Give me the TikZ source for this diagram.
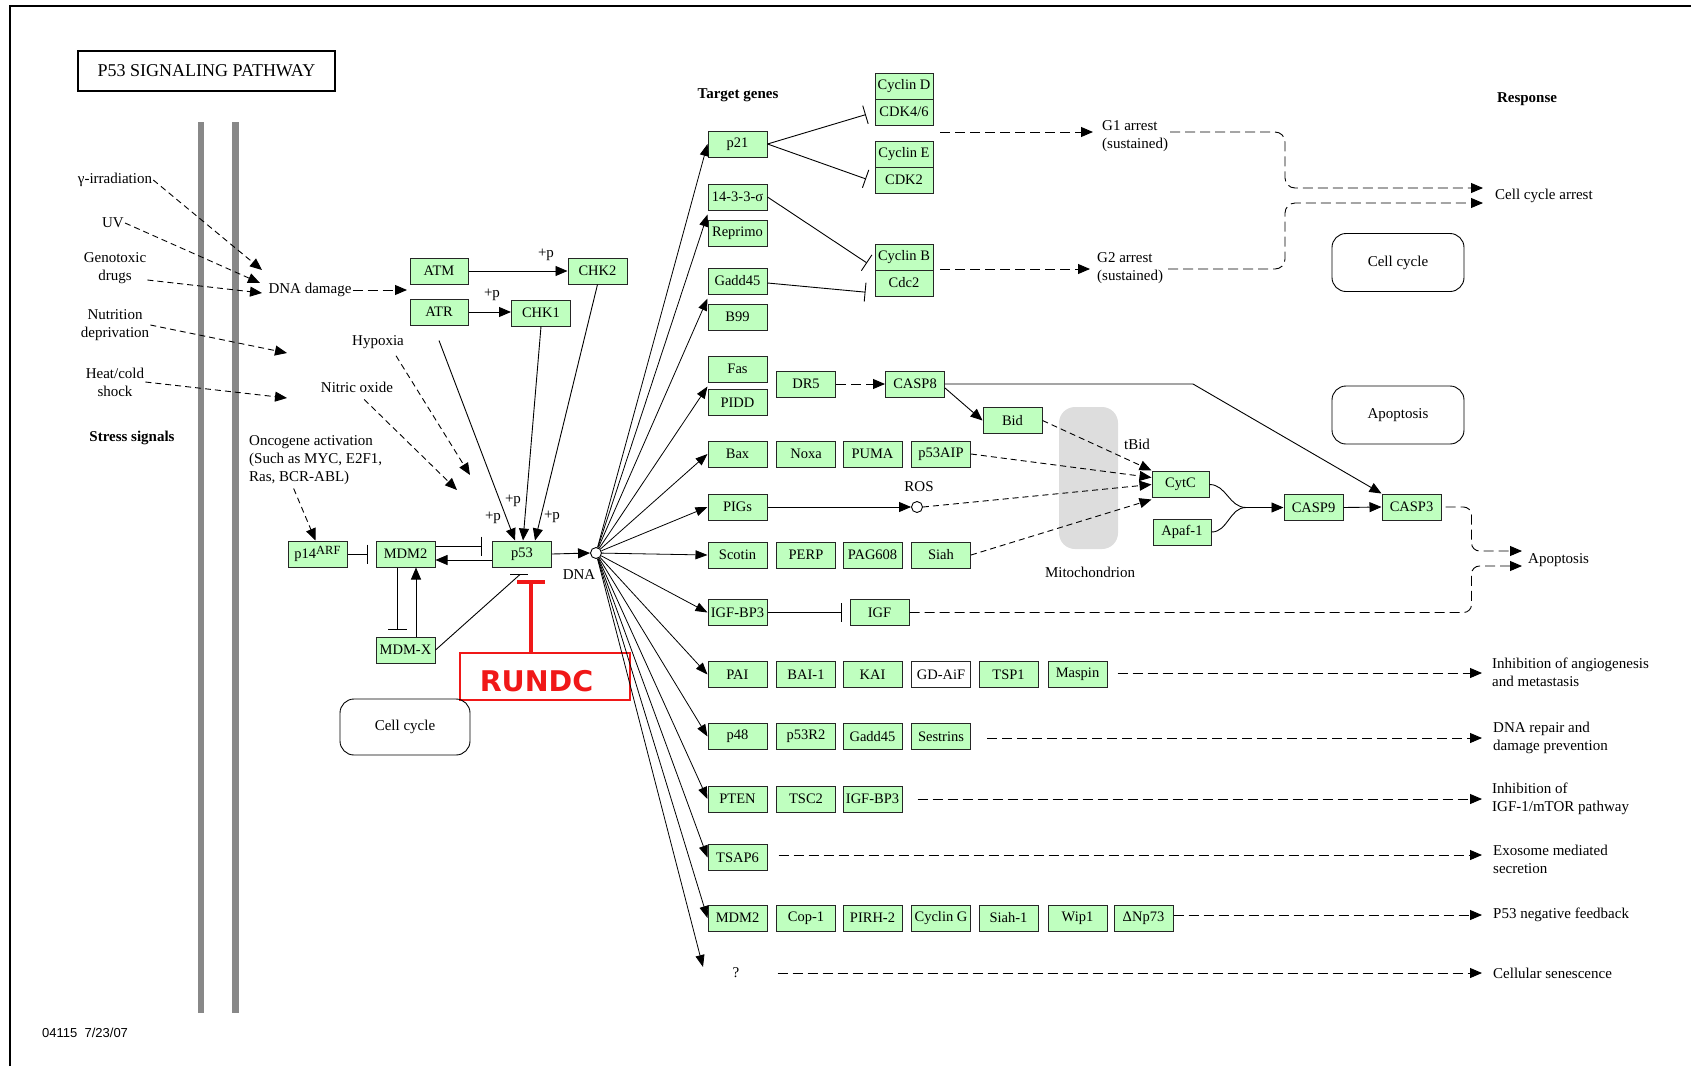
\documentclass[tikz,border=0pt]{standalone}
\usepackage{fontspec}
\setmainfont{Liberation Serif}
\setsansfont{Liberation Sans}
\newfontfamily\dvsans{DejaVu Sans}
\usetikzlibrary{arrows.meta}
\definecolor{kgreen}{RGB}{191,255,191}
\definecolor{barg}{RGB}{136,136,136}
\definecolor{mitog}{RGB}{221,221,221}
\definecolor{kred}{RGB}{240,24,24}
\newcommand\kgfont{\fontsize{14.5}{17}\selectfont}
\newcommand\klfont{\fontsize{15}{18}\selectfont}
\newcommand\kbfont{\bfseries\fontsize{15}{18}\selectfont}
\begin{document}
\begin{tikzpicture}[x=1pt,y=-1pt,
  gene/.style={draw=black!85, fill=kgreen, minimum width=59pt, minimum height=26pt, inner sep=0pt, font=\kgfont, line width=1pt},
  lbl/.style={font=\klfont, inner sep=1pt, align=center},
  blbl/.style={font=\kbfont, inner sep=1pt},
  resp/.style={font=\klfont, inner sep=0pt, align=left, anchor=west},
  arr/.style={-{Triangle[length=12pt,width=10pt]}, line width=0.9pt},
  dsh/.style={dash pattern=on 10pt off 5pt},
  sdsh/.style={dash pattern=on 6pt off 4pt},
  inh/.style={-{Bar[width=19pt]}, line width=0.9pt},
  rbox/.style={draw, rounded corners=14pt, minimum width=132pt, minimum height=58pt, font=\klfont, line width=0.9pt},
]
\useasboundingbox (0,0) rectangle (1691,1066);
% frame
\draw[line width=1.2pt] (10,1066) -- (10,6) -- (1691,6);
% membranes
\fill[barg] (198,122) rectangle (204,1013);
\fill[barg] (232,122) rectangle (239,1013);
% mitochondrion
\node[fill=mitog, rounded corners=16pt, minimum width=59pt, minimum height=142pt, inner sep=0pt] (mito) at (1088.5,478) {};
\node[lbl] (mitol) at (1090,572) {Mitochondrion};

% title
\node[draw, line width=2pt, minimum width=257pt, minimum height=40pt, inner sep=0pt, font=\fontsize{18}{21}\selectfont] (title) at (206.5,71) {P53 SIGNALING PATHWAY};
\node[font=\sffamily\fontsize{13}{15}\selectfont, anchor=west, inner sep=0pt] (foot) at (42,1033) {04115\ \ 7/23/07};

% headers
\node[blbl] (tg) at (738,95) {Target genes};
\node[blbl] (respl) at (1527,99) {Response};
\node[blbl] (stress) at (132,438) {Stress signals};

% stress signals
\node[lbl] (gamma) at (115,180) {γ-irradiation};
\node[lbl] (uv) at (113,223) {UV};
\node[lbl] (geno) at (115,268) {Genotoxic\\drugs};
\node[lbl] (nutr) at (115,325) {Nutrition\\deprivation};
\node[lbl] (heat) at (115,382) {Heat/cold\\shock};
\node[lbl] (dd) at (310,290) {DNA damage};
\coordinate (ddA) at (262,270);
\coordinate (ddB) at (260,283);
\coordinate (ddC) at (262,293);
\coordinate (nutE) at (287,353);
\coordinate (heatE) at (287,398);
\coordinate (atmgap) at (407,290);
\draw[arr,sdsh] (gamma.east) -- (ddA);
\draw[arr,sdsh] (uv.east) -- (ddB);
\draw[arr,sdsh] ([yshift=-12pt]geno.east) -- (ddC);
\draw[arr,sdsh] (nutr.east) -- (nutE);
\draw[arr,sdsh] (heat.east) -- (heatE);
\draw[arr,dsh] (dd.east) -- (atmgap);

% kinases
\node[gene, minimum width=58pt] (atm) at (439,271) {ATM};
\node[gene, minimum width=58pt] (atr) at (439,312) {ATR};
\node[gene] (chk2) at (597.5,271) {CHK2};
\node[gene] (chk1) at (541,313) {CHK1};
\draw[arr] (atm.east) -- (chk2.west);
\draw[arr] (atr.east) -- (chk1.west |- atr.east);
\node[lbl] (pp1) at (546,255) {+p};
\node[lbl] (pp2) at (492,295) {+p};

% hypoxia etc
\node[lbl] (hyp) at (378,342) {Hypoxia};
\node[lbl] (nox) at (357,387) {Nitric oxide};
\coordinate (hypE) at (470,475);
\coordinate (noxE) at (457,490);
\draw[arr,sdsh] ([xshift=-9pt,yshift=-6pt]hyp.south east) -- (hypE);
\draw[arr,sdsh] ([xshift=-30pt,yshift=-6pt]nox.south east) -- (noxE);
\node[font=\klfont, inner sep=0pt, align=left, anchor=north west] (onc) at (249,435) {Oncogene activation\\(Such as MYC, E2F1,\\Ras, BCR-ABL)};

% p53 core
\node[gene] (p14) at (317.5,554) {p14\raisebox{4pt}{\fontsize{12.5}{12}\selectfont ARF}};
\node[gene] (mdm2) at (405.5,554) {MDM2};
\node[gene] (mdmx) at (405.5,650) {MDM-X};
\node[gene] (p53) at (522,554) {p53};
\draw[arr,sdsh] ([xshift=-22pt,yshift=-4pt]onc.south) -- ([xshift=-2pt]p14.north);
\draw[inh, shorten >=8pt] (p14.east) -- (mdm2.west);
\draw[inh, shorten >=10pt] ([yshift=8pt]mdm2.east) -- ([yshift=8pt]p53.west);
\draw[arr] ([yshift=-6pt]p53.west) -- ([yshift=-6pt]mdm2.east);
\draw[inh, shorten >=7pt] ([xshift=-8.5pt]mdm2.south) -- ([xshift=-8.5pt]mdmx.north);
\draw[arr] ([xshift=10.5pt]mdmx.north) -- ([xshift=10.5pt]mdm2.south);
\draw[line width=0.9pt] (mdmx.east) -- ([xshift=-2pt,yshift=-7pt]p53.south);
\draw[line width=0.9pt] ([xshift=-12pt,yshift=-7pt]p53.south) -- ([xshift=6pt,yshift=-7pt]p53.south);
\draw[arr] ([yshift=-15pt]atr.south) -- ([xshift=-7pt]p53.north);
\draw[arr] (chk1.south) -- ([xshift=1pt]p53.north);
\draw[arr] (chk2.south) -- ([xshift=13pt]p53.north);
\node[lbl] (pp3) at (493,518) {+p};
\node[lbl] (pp4) at (513,501) {+p};
\node[lbl] (pp5) at (552,517) {+p};

% RUNDC
\node[draw=kred, line width=1.3pt, minimum width=170pt, minimum height=47pt, inner sep=0pt, text=kred, font=\dvsans\bfseries\fontsize{28.5}{30}\selectfont] (rundc) at (545,676.5) {\raisebox{-5pt}[\height][\depth]{RUNDC}\kern17pt};
\coordinate (rT) at (531,582);
\draw[kred, line width=4.5pt] (rundc.north -| rT) -- (rT);
\draw[kred, line width=4.5pt] ([xshift=-14pt]rT) -- ([xshift=14pt]rT);

% Cell cycle left
\node[rbox, minimum width=130pt, minimum height=56pt] (ccl) at (405,727) {Cell cycle};

% DNA node
\node[circle, draw, line width=0.9pt, fill=white, minimum size=11pt, inner sep=0pt] (dna) at (596,553) {};
\node[lbl] (dnal) at (579,575) {DNA};
\draw[arr] (p53.east) -- (dna.west);

% target genes
\node[gene] (p21) at (737.5,144) {p21};
\node[gene] (s1433) at (737.5,197) {14-3-3-σ};
\node[gene] (reprimo) at (737.5,233) {Reprimo};
\node[gene] (gadda) at (737.5,281) {Gadd45};
\node[gene] (b99) at (737.5,317) {B99};
\node[gene] (fas) at (737.5,369) {Fas};
\node[gene] (pidd) at (737.5,402.5) {PIDD};
\node[gene] (dr5) at (806,384) {DR5};
\node[gene] (casp8) at (915,384) {CASP8};
\node[gene] (bid) at (1012.5,420.5) {Bid};
\node[gene] (bax) at (737.5,454) {Bax};
\node[gene] (noxa) at (806,454) {Noxa};
\node[gene] (puma) at (872.5,454) {PUMA};
\node[gene] (p53aip) at (941,454) {p53AIP};
\node[gene] (pigs) at (737.5,507) {PIGs};
\node[gene] (scotin) at (737.5,555) {Scotin};
\node[gene] (perp) at (806,555) {PERP};
\node[gene] (pag) at (872.5,555) {PAG608};
\node[gene] (siah) at (941,555) {Siah};
\node[gene] (igfbp) at (737.5,612.5) {IGF-BP3};
\node[gene] (igf) at (879.5,612.5) {IGF};
\node[gene] (pai) at (737.5,674.5) {PAI};
\node[gene] (bai) at (806,674.5) {BAI-1};
\node[gene] (kai) at (872.5,674.5) {KAI};
\node[gene, fill=white] (gdaif) at (941,674.5) {GD-AiF};
\node[gene] (tsp) at (1008.5,674.5) {TSP1};
\node[gene] (maspin) at (1077.5,674.5) {Maspin};
\node[gene] (p48) at (737.5,736.5) {p48};
\node[gene] (p53r2) at (806,736.5) {p53R2};
\node[gene] (gaddb) at (872.5,736.5) {Gadd45};
\node[gene] (sestrins) at (941,736.5) {Sestrins};
\node[gene] (pten) at (737.5,799) {PTEN};
\node[gene] (tsc2) at (806,799) {TSC2};
\node[gene] (igfbpb) at (872.5,799) {IGF-BP3};
\node[gene] (tsap6) at (737.5,857.5) {TSAP6};
\node[gene] (mdmb) at (737.5,918) {MDM2};
\node[gene] (cop1) at (806,918) {Cop-1};
\node[gene] (pirh2) at (872.5,918) {PIRH-2};
\node[gene] (cycg) at (941,918) {Cyclin G};
\node[gene] (siah1) at (1008.5,918) {Siah-1};
\node[gene] (wip1) at (1077.5,918) {Wip1};
\node[gene] (dnp73) at (1143.5,918) {ΔNp73};
\node[lbl] (qm) at (736,973) {?};
\coordinate (qmT) at (703,967);
\coordinate (t1433) at ([yshift=-4pt]s1433.south west);
\coordinate (tgadd) at ([yshift=-4pt]gadda.south west);
\coordinate (tfas) at ([yshift=-4pt]fas.south west);

% fan
\foreach \t in {p21.west, t1433, tgadd, tfas, bax.west, pigs.west, scotin.west, igfbp.west, pai.west, p48.west, pten.west, tsap6.west, mdmb.west, qmT}
  \draw[arr, line width=0.8pt, -{Triangle[length=12pt,width=9pt]}] (dna) -- (\t);

% cyclin complexes
\node[gene, minimum width=58pt] (cycd) at (904,86) {Cyclin D};
\node[gene, minimum width=58pt] (cdk46) at (904,112) {CDK4/6};
\node[gene, minimum width=58pt] (cyce) at (904,154.5) {Cyclin E};
\node[gene, minimum width=58pt] (cdk2) at (904,180) {CDK2};
\node[gene, minimum width=58pt] (cycb) at (904,257) {Cyclin B};
\node[gene, minimum width=58pt] (cdc2) at (904,283) {Cdc2};
\draw[inh, shorten >=9pt] (p21.east) -- (cdk46.west);
\draw[inh, shorten >=9pt] (p21.east) -- ([yshift=-2pt]cdk2.west);
\draw[inh, shorten >=9pt] (s1433.east) -- ([yshift=-11pt]cycb.west);
\draw[inh, shorten >=9pt] ([yshift=-2pt]gadda.east) -- ([yshift=-10pt]cdc2.west);

% G1 / G2 arrest
\node[resp] (g1) at (1102,136) {G1 arrest\\(sustained)};
\node[resp] (g2) at (1097,268) {G2 arrest\\(sustained)};
\coordinate (g1in) at (940,132);
\coordinate (g2in) at (940,269);
\coordinate (g1out) at (1170,132);
\coordinate (g2out) at (1168,269);
\node[resp] (cca) at (1495,196) {Cell cycle arrest};
\draw[arr,dsh] (g1in) -- ([xshift=-9pt,yshift=4pt]g1.west);
\draw[arr,dsh] (g2in) -- ([xshift=-7pt,yshift=-1pt]g2.west);
\draw[arr,dsh,rounded corners=10pt] (g1out) -- (1285,132) -- (1285,188) -- ([xshift=-12pt,yshift=8pt]cca.west);
\draw[arr,dsh,rounded corners=10pt] (g2out) -- (1285,269) -- (1285,203) -- ([xshift=-12pt,yshift=-7pt]cca.west);
\node[rbox] (ccr) at (1398,262.5) {Cell cycle};
\node[rbox] (apobox) at (1398,415) {Apoptosis};

% apoptosis machinery
\node[gene, minimum width=57pt] (cytc) at (1180.5,484.5) {CytC};
\node[gene, minimum width=58pt] (apaf) at (1182,532) {Apaf-1};
\node[gene] (casp9) at (1313.5,507.5) {CASP9};
\node[gene] (casp3) at (1411.5,507) {CASP3};
\node[circle, draw, line width=0.9pt, fill=white, minimum size=11pt, inner sep=0pt] (ros) at (917,507) {};
\node[lbl] (rosl) at (919,487) {ROS};
\node[lbl] (tbid) at (1137,444) {tBid};
\draw[arr,dsh] (dr5.east) -- (casp8.west);
\draw[arr] ([yshift=-4pt]casp8.east) -- (bid.west);
\draw[arr] (casp8.east) -- ++(248,0) -- (casp3.north west);
\draw[arr] (pigs.east) -- (ros.west);
\draw[arr,sdsh] (bid.east) -- ([yshift=14pt]cytc.west);
\draw[arr,sdsh] (p53aip.east) -- ([yshift=7pt]cytc.west);
\draw[arr,sdsh] (ros.east) -- (cytc.west);
\draw[arr,sdsh] (siah.east) -- ([yshift=-15pt]cytc.west);
\coordinate (junc) at (1246,507.5);
\draw[line width=0.9pt] (cytc.east) to[out=0,in=180] (junc);
\draw[line width=0.9pt] (apaf.east) to[out=0,in=180] (junc);
\draw[arr] (junc) -- (casp9.west);
\draw[arr] (casp9.east) -- (casp3.west);
\draw[inh, shorten >=8pt] (igfbp.east) -- (igf.west);
\node[resp] (apot) at (1528,560) {Apoptosis};
\draw[arr,dsh,rounded corners=8pt] ([xshift=4pt]casp3.east) -- ++(26,0) -- ++(0,44) -- ([xshift=-6pt,yshift=9pt]apot.west);
\draw[arr,dsh,rounded corners=8pt] (igf.east) -- ++(562,0) -- ++(0,-46.5) -- ([xshift=-6pt,yshift=-6pt]apot.west);

% responses
\node[resp] (angio) at (1492,672) {Inhibition of angiogenesis\\and metastasis};
\node[resp] (dnarep) at (1493,738) {DNA repair and\\damage prevention};
\node[resp] (igfm) at (1492,799) {Inhibition of\\IGF-1/mTOR pathway};
\node[resp] (exo) at (1493,859) {Exosome mediated\\secretion};
\node[resp] (neg) at (1493,915) {P53 negative feedback};
\node[resp] (sen) at (1493,973) {Cellular senescence};
\draw[arr,dsh] ([xshift=10pt,yshift=1.5pt]maspin.east) -- ([xshift=-10pt,yshift=-1pt]angio.west);
\draw[arr,dsh] ([xshift=16pt,yshift=-1.5pt]sestrins.east) -- ([xshift=-11pt]dnarep.west);
\draw[arr,dsh] ([xshift=15pt]igfbpb.east) -- ([xshift=-10pt]igfm.west);
\draw[arr,dsh] ([xshift=11pt,yshift=2.5pt]tsap6.east) -- ([xshift=-11pt,yshift=4pt]exo.west);
\draw[arr,dsh] ([yshift=3pt]dnp73.east) -- ([xshift=-11pt]neg.west);
\draw[arr,dsh] ([xshift=37pt]qm.east) -- ([xshift=-11pt]sen.west);
\end{tikzpicture}
\end{document}
